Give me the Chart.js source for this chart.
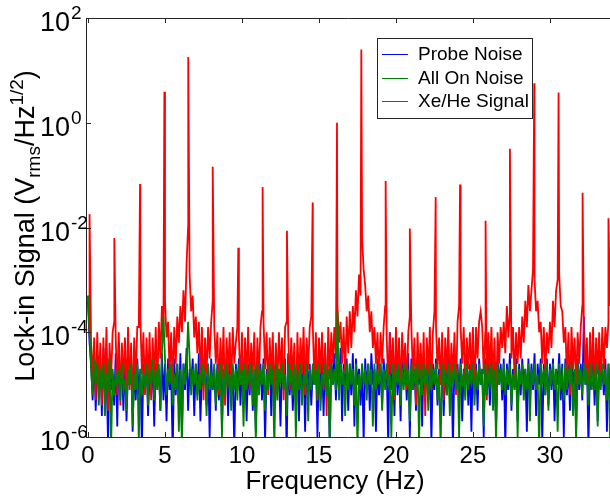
<!DOCTYPE html>
<html>
<head>
<meta charset="utf-8">
<script src="https://cdn.jsdelivr.net/npm/chart.js@4.4.1/dist/chart.umd.min.js"></script>
<style>
  body { margin: 0; background: #fff; }
</style>
</head>
<body>
<canvas id="spectrum" width="610" height="496"></canvas>
<script>
// spectra sampled every 0.1 Hz from 0 to 34 Hz, values are log10 of the amplitude
const freqStep = 0.1;

const probeNoiseLog = [
  -3.4,-4.2,-4.6,-5.3,-4.4,-5.5,-4.6,-5.0,-4.5,-5.6,
  -4.3,-5.2,-4.7,-6.1,-4.5,-5.1,-4.8,-5.4,-4.4,-5.8,
  -4.2,-5.0,-4.6,-5.5,-4.5,-5.7,-4.7,-5.0,-4.4,-5.9,
  -4.6,-5.3,-4.5,-5.2,-4.7,-6.2,-4.6,-5.1,-4.5,-5.6,
  -4.8,-5.2,-4.5,-5.8,-4.6,-5.0,-4.7,-5.5,-4.4,-5.3,
  -4.6,-5.7,-4.5,-5.1,-4.8,-6.3,-4.5,-5.2,-4.6,-5.4,
  -4.4,-5.9,-4.6,-5.1,-4.3,-5.5,-4.7,-5.0,-4.5,-5.6,
  -4.6,-5.2,-4.4,-5.7,-4.8,-5.0,-4.5,-5.4,-4.6,-6.0,
  -4.5,-5.1,-4.7,-5.5,-4.6,-5.3,-4.4,-5.8,-4.7,-5.0,
  -4.5,-5.6,-4.4,-5.2,-4.8,-6.2,-4.6,-5.1,-4.5,-5.4,
  -4.7,-5.0,-4.5,-5.7,-4.6,-5.2,-4.4,-5.5,-4.8,-5.9,
  -4.5,-5.1,-4.6,-5.3,-4.5,-6.1,-4.7,-5.0,-4.4,-5.6,
  -4.6,-5.4,-4.5,-5.1,-4.7,-5.8,-4.6,-5.0,-4.5,-6.3,
  -4.4,-5.2,-4.6,-5.5,-4.7,-5.0,-4.5,-5.7,-4.6,-5.1,
  -4.5,-5.9,-4.4,-5.2,-4.6,-5.4,-4.7,-5.0,-4.5,-6.0,
  -4.6,-5.1,-4.5,-5.6,-4.4,-5.2,-4.7,-6.2,-4.5,-5.0,
  -4.4,-5.3,-4.6,-5.1,-4.3,-5.7,-4.6,-5.0,-4.5,-5.5,
  -4.6,-5.2,-4.4,-5.8,-4.5,-5.0,-4.7,-5.4,-4.6,-6.1,
  -4.5,-5.1,-4.6,-5.5,-4.4,-5.0,-4.7,-5.9,-4.5,-5.2,
  -4.6,-5.4,-4.5,-5.0,-4.7,-6.2,-4.0,-5.1,-4.5,-5.6,
  -4.4,-5.2,-4.6,-5.7,-4.5,-5.0,-4.6,-5.3,-4.4,-6.0,
  -4.5,-5.1,-4.7,-5.5,-4.6,-5.0,-4.4,-5.8,-4.5,-5.2,
  -4.6,-5.3,-4.5,-6.1,-4.6,-5.1,-4.5,-5.4,-4.7,-5.0,
  -4.5,-5.6,-4.6,-5.2,-4.4,-5.0,-4.6,-6.2,-4.5,-5.1,
  -4.6,-5.3,-4.5,-5.7,-4.7,-5.0,-4.5,-5.4,-4.6,-5.9,
  -4.4,-5.1,-4.6,-5.5,-4.5,-5.0,-4.7,-6.0,-4.5,-5.2,
  -4.6,-5.4,-4.4,-5.1,-4.6,-5.8,-4.5,-5.0,-4.6,-5.3,
  -4.5,-6.2,-4.6,-5.1,-4.4,-5.5,-4.7,-5.0,-4.5,-5.7,
  -4.6,-5.2,-4.5,-5.0,-4.7,-5.9,-4.5,-5.3,-4.6,-5.1,
  -4.4,-5.6,-4.6,-5.0,-4.5,-6.1,-4.6,-5.2,-4.5,-5.4,
  -4.6,-5.1,-4.5,-5.7,-4.7,-5.0,-4.4,-5.3,-4.6,-6.0,
  -4.5,-5.2,-4.6,-5.5,-4.5,-5.0,-4.7,-5.8,-4.5,-5.1,
  -4.6,-5.3,-3.7,-5.0,-4.5,-6.2,-4.6,-5.1,-4.5,-5.4,
  -4.6,-5.7,-4.5,-5.0,-4.7,-5.2,-4.5,-5.9,-4.6,-5.1,
  -4.5
];

const allOnNoiseLog = [
  -3.3,-4.0,-4.7,-5.2,-4.5,-5.0,-4.6,-5.4,-4.7,-5.1,
  -4.6,-5.6,-4.8,-5.0,-4.5,-6.2,-4.7,-5.2,-4.8,-5.0,
  -4.7,-5.3,-4.6,-5.1,-4.9,-5.5,-4.7,-5.0,-4.6,-5.8,
  -4.8,-5.1,-4.6,-6.1,-4.7,-5.2,-4.8,-5.0,-4.6,-5.4,
  -4.7,-5.0,-4.5,-5.3,-4.7,-5.1,-4.6,-5.5,-4.4,-3.7,
  -4.5,-5.2,-4.7,-5.0,-4.6,-5.4,-4.8,-5.1,-4.6,-5.9,
  -4.7,-6.2,-4.6,-5.0,-4.7,-3.8,-4.5,-5.2,-4.7,-5.0,
  -4.6,-5.3,-4.8,-5.1,-4.6,-5.0,-4.7,-5.6,-4.6,-5.1,
  -4.8,-5.0,-4.6,-5.4,-4.7,-5.1,-4.6,-6.0,-4.7,-5.2,
  -4.6,-5.0,-4.8,-5.5,-4.6,-5.1,-4.7,-5.3,-4.6,-5.0,
  -4.7,-5.8,-4.6,-5.1,-4.8,-5.0,-4.6,-5.4,-4.7,-6.1,
  -4.6,-5.2,-4.7,-5.0,-4.6,-5.5,-4.8,-5.1,-4.6,-5.0,
  -4.7,-6.2,-4.6,-5.3,-4.7,-5.0,-4.6,-5.1,-4.8,-5.6,
  -4.6,-5.0,-4.7,-5.2,-4.6,-6.0,-4.7,-5.1,-4.6,-5.4,
  -4.8,-5.0,-4.6,-5.7,-4.7,-5.1,-4.6,-5.0,-4.7,-5.3,
  -4.6,-5.5,-4.8,-5.0,-4.6,-5.2,-4.7,-6.1,-4.6,-5.0,
  -4.7,-5.1,-3.6,-5.3,-4.6,-5.0,-4.7,-5.6,-4.6,-5.1,
  -4.6,-5.0,-4.7,-5.4,-4.6,-6.2,-4.8,-5.1,-4.6,-5.0,
  -4.7,-5.3,-4.6,-5.0,-4.7,-5.8,-4.6,-5.1,-4.7,-5.0,
  -4.6,-5.5,-4.7,-5.1,-4.6,-5.0,-4.8,-6.0,-4.6,-5.2,
  -4.7,-5.0,-4.6,-5.4,-4.7,-5.1,-4.6,-5.0,-4.7,-5.7,
  -4.6,-5.1,-4.8,-5.0,-4.6,-6.1,-4.7,-5.2,-4.6,-5.0,
  -4.7,-5.5,-4.6,-5.1,-4.7,-5.0,-4.6,-5.3,-4.8,-6.2,
  -4.6,-5.0,-4.7,-5.2,-4.6,-5.6,-4.7,-5.0,-4.6,-5.1,
  -4.7,-6.0,-4.6,-5.0,-4.8,-5.3,-4.6,-5.1,-4.7,-5.0,
  -4.6,-5.4,-4.7,-5.1,-4.6,-5.0,-4.7,-5.8,-4.6,-5.2,
  -4.8,-5.0,-4.6,-5.5,-4.7,-6.1,-4.6,-5.0,-4.7,-5.1,
  -4.6,-5.2,-4.7,-5.0,-4.6,-5.4,-4.8,-5.1,-4.6,-6.0,
  -4.7,-5.0,-4.6,-5.3,-4.7,-5.1,-4.6,-5.7,-4.7,-5.0,
  -4.6,-5.1,-4.8,-6.2,-4.6,-5.0,-4.7,-5.2,-4.6,-5.5,
  -4.7,-5.0,-4.6,-5.1,-4.7,-5.9,-4.6,-5.0,-4.8,-5.3,
  -4.6,-5.1,-4.7,-5.0,-4.6,-5.6,-4.7,-6.1,-4.6,-5.0,
  -4.7,-5.2,-4.6,-5.0,-4.7,-5.4,-4.6,-5.1,-4.8,-5.0,
  -4.6,-5.8,-4.7,-5.1,-4.6,-5.0,-4.7,-5.3,-4.6,-6.0,
  -4.7
];

const xeHeSignalLog = [
  -3.3,-4.0,-4.2,-4.9,-4.1,-5.3,-4.0,-5.0,-4.2,-5.4,
  -4.1,-5.1,-3.9,-5.5,-4.2,-4.9,-4.0,-3.8,-4.1,-5.2,
  -4.0,-5.4,-4.2,-5.0,-4.1,-5.3,-3.9,-5.1,-4.2,-5.5,
  -4.1,-4.9,-3.9,-3.9,-3.7,-4.8,-4.0,-5.2,-4.1,-5.0,
  -4.0,-5.3,-4.1,-4.9,-3.9,-5.1,-3.8,-4.5,-3.5,-3.9,
  -3.4,-4.1,-3.8,-4.8,-4.0,-5.0,-3.9,-4.6,-3.7,-4.2,
  -3.5,-4.0,-3.2,-3.8,-2.7,-2.0,-2.9,-3.6,-3.3,-4.1,
  -3.7,-4.4,-3.8,-4.9,-3.9,-5.3,-4.1,-4.8,-3.9,-4.5,
  -3.8,-3.4,-3.9,-4.6,-4.0,-5.2,-4.1,-4.9,-3.9,-5.4,
  -4.1,-4.8,-4.0,-5.1,-3.9,-4.6,-4.2,-3.9,-4.1,-5.0,
  -4.0,-5.3,-4.1,-4.9,-3.9,-5.1,-4.2,-4.8,-4.0,-5.5,
  -4.1,-4.9,-3.9,-3.6,-3.8,-4.7,-4.0,-5.2,-4.1,-4.9,
  -4.0,-5.4,-4.2,-5.0,-4.0,-4.8,-4.1,-5.3,-3.9,-3.8,
  -4.0,-5.1,-4.1,-4.9,-4.2,-5.5,-4.0,-5.0,-4.1,-4.8,
  -3.9,-5.2,-4.1,-4.7,-3.9,-3.7,-3.9,-4.9,-4.0,-5.3,
  -4.1,-4.8,-4.0,-5.1,-4.2,-5.6,-3.9,-4.9,-4.0,-4.6,
  -3.9,-4.5,-3.5,-4.2,-3.8,-4.6,-3.9,-4.8,-3.7,-4.4,
  -3.6,-4.3,-3.5,-4.0,-3.2,-3.7,-2.9,-3.3,-2.2,-2.8,
  -3.1,-3.6,-3.3,-4.0,-3.6,-4.3,-3.9,-4.6,-4.0,-4.9,
  -4.0,-4.6,-3.9,-3.5,-4.1,-5.0,-4.0,-4.8,-4.1,-5.3,
  -3.9,-4.9,-4.1,-5.2,-4.0,-4.7,-4.2,-5.1,-4.0,-3.7,
  -3.9,-4.8,-4.1,-5.4,-4.0,-4.9,-4.2,-5.0,-4.0,-5.6,
  -4.1,-4.8,-3.9,-5.1,-4.0,-3.6,-3.9,-4.7,-4.1,-5.0,
  -4.0,-5.3,-4.1,-4.8,-3.9,-5.1,-4.2,-4.9,-4.0,-5.2,
  -3.8,-3.5,-3.9,-4.6,-3.9,-5.0,-4.1,-4.7,-4.0,-4.9,
  -3.9,-5.2,-3.9,-4.5,-3.8,-3.6,-3.9,-4.8,-4.0,-5.3,
  -4.0,-4.8,-3.9,-5.0,-4.1,-5.4,-4.0,-4.6,-3.9,-4.3,
  -3.8,-4.4,-3.5,-4.1,-3.6,-4.5,-3.9,-4.9,-4.0,-4.6,
  -3.9,-4.5,-3.7,-4.2,-3.4,-3.9,-3.1,-3.6,-3.2,-2.8,
  -3.0,-3.6,-3.4,-4.0,-3.8,-4.6,-3.9,-4.8,-4.0,-4.4,
  -3.8,-4.3,-3.4,-3.9,-3.2,-3.0,-2.9,-3.5,-3.6,-4.2,
  -3.9,-4.8,-4.0,-5.2,-3.9,-4.7,-4.1,-5.0,-4.0,-4.6,
  -3.9,-3.5,-3.9,-4.8,-4.1,-5.3,-4.0,-4.9,-3.9,-5.1,
  -4.1,-4.8,-4.0,-5.0,-3.9,-4.7,-3.9,-4.3,-3.8,-3.5,
  -4.0
];

// resonance lines of the Xe/He signal (Hz, amplitude)
const peakFreqs = [0.1, 1.71, 3.38, 4.96, 6.51, 8.1, 9.76, 11.34, 12.92, 14.59, 16.17,
                   17.75, 19.33, 20.9, 22.58, 24.16, 25.82, 27.4, 28.98, 30.56, 32.12, 33.8];
const peakValues = [1.8e-2, 6.3e-3, 6.8e-2, 3.9, 18, 0.144, 4.1e-3, 0.059, 8.7e-3, 0.03, 1.0,
                    25, 0.077, 9.6e-3, 0.038, 0.066, 0.0134, 0.32, 5.7, 3.8, 0.046, 0.015];

const xTicks = [0, 5, 10, 15, 20, 25, 30];
const yTicks = [1e2, 1e0, 1e-2, 1e-4, 1e-6];
const yTickExponents = ['2', '0', '-2', '-4', '-6'];

const seriesNames = ['Probe Noise', 'All On Noise', 'Xe/He Signal'];
const seriesColors = ['#0000ff', '#008000', '#ff0000'];

const fontFamily = '"Liberation Sans", Arial, sans-serif';
const axisColor = '#262626';

function toPoints(logs) {
  return logs.map((v, i) => ({ x: Math.round(i * freqStep * 10) / 10, y: Math.pow(10, v) }));
}

let signalPoints = toPoints(xeHeSignalLog);
for (let k = 0; k < peakFreqs.length; k++) {
  signalPoints.push({ x: peakFreqs[k], y: peakValues[k] });
}
signalPoints.sort((a, b) => a.x - b.x);

// axes box, inward ticks, labels and legend drawn on top of the data (MATLAB look)
const decorations = {
  id: 'decorations',
  afterDraw(chart) {
    const ctx = chart.ctx;
    const area = chart.chartArea;
    const xs = chart.scales.x;
    const ys = chart.scales.y;

    ctx.save();
    ctx.strokeStyle = axisColor;
    ctx.lineWidth = 1;
    ctx.beginPath();
    ctx.moveTo(area.left + 0.5, area.bottom + 0.5);
    ctx.lineTo(area.left + 0.5, area.top + 0.5);
    ctx.lineTo(area.right, area.top + 0.5);
    ctx.moveTo(area.left + 0.5, area.bottom + 0.5);
    ctx.lineTo(area.right, area.bottom + 0.5);
    xTicks.forEach(t => {
      const px = Math.round(xs.getPixelForValue(t)) + 0.5;
      ctx.moveTo(px, area.bottom);
      ctx.lineTo(px, area.bottom - 5);
      ctx.moveTo(px, area.top);
      ctx.lineTo(px, area.top + 5);
    });
    yTicks.forEach(t => {
      const py = Math.round(ys.getPixelForValue(t)) + 0.5;
      ctx.moveTo(area.left, py);
      ctx.lineTo(area.left + 5, py);
    });
    ctx.stroke();

    ctx.fillStyle = '#000';
    ctx.textBaseline = 'alphabetic';

    // x tick labels
    ctx.font = '24px ' + fontFamily;
    ctx.textAlign = 'center';
    xTicks.forEach(t => {
      ctx.fillText(String(t), xs.getPixelForValue(t), 463);
    });

    // y tick labels 10^n
    yTicks.forEach((t, i) => {
      const py = ys.getPixelForValue(t);
      ctx.font = '27px ' + fontFamily;
      ctx.textAlign = 'right';
      ctx.fillText('10', 70, py + 13);
      ctx.font = '19px ' + fontFamily;
      ctx.textAlign = 'left';
      ctx.fillText(yTickExponents[i], 71, py + 1);
    });

    // x title
    ctx.font = '26px ' + fontFamily;
    ctx.textAlign = 'center';
    ctx.fillText('Frequency (Hz)', 335, 489);

    // y title with sub/superscript
    const parts = [
      { t: 'Lock-in Signal (V', size: 27, dy: 0 },
      { t: 'rms', size: 19, dy: 6 },
      { t: '/Hz', size: 27, dy: 0 },
      { t: '1/2', size: 19, dy: -11 },
      { t: ')', size: 27, dy: 0 }
    ];
    let total = 0;
    parts.forEach(p => {
      ctx.font = p.size + 'px ' + fontFamily;
      p.w = ctx.measureText(p.t).width;
      total += p.w;
    });
    ctx.save();
    ctx.translate(34, 226);
    ctx.rotate(-Math.PI / 2);
    ctx.textAlign = 'left';
    let cx = -total / 2;
    parts.forEach(p => {
      ctx.font = p.size + 'px ' + fontFamily;
      ctx.fillText(p.t, cx, p.dy);
      cx += p.w;
    });
    ctx.restore();

    // legend
    const lx = 377, ly = 38, lw = 155, lh = 80;
    ctx.fillStyle = '#fff';
    ctx.fillRect(lx, ly, lw, lh);
    ctx.strokeStyle = axisColor;
    ctx.strokeRect(lx + 0.5, ly + 0.5, lw, lh);
    const rows = [54, 78, 101];
    ctx.font = '19px ' + fontFamily;
    ctx.textAlign = 'left';
    ctx.textBaseline = 'middle';
    seriesNames.forEach((name, i) => {
      ctx.strokeStyle = seriesColors[i];
      ctx.beginPath();
      ctx.moveTo(382, rows[i] + 0.5);
      ctx.lineTo(408, rows[i] + 0.5);
      ctx.stroke();
      ctx.fillStyle = '#000';
      ctx.fillText(name, 418, rows[i] + 1);
    });
    ctx.restore();
  }
};

const ctxSpectrum = document.querySelector('#spectrum').getContext('2d');
const spectrumChart = new Chart(ctxSpectrum, {
  type: 'line',
  data: {
    datasets: [{
      label: seriesNames[0],
      data: toPoints(probeNoiseLog),
      borderColor: seriesColors[0],
      borderWidth: 1.8,
      pointRadius: 0,
      order: 3
    }, {
      label: seriesNames[1],
      data: toPoints(allOnNoiseLog),
      borderColor: seriesColors[1],
      borderWidth: 1.8,
      pointRadius: 0,
      order: 1
    }, {
      label: seriesNames[2],
      data: signalPoints,
      borderColor: seriesColors[2],
      borderWidth: 1.8,
      pointRadius: 0,
      order: 2
    }]
  },
  options: {
    responsive: false,
    animation: false,
    layout: { padding: { left: 86, top: 18, right: 0, bottom: 59 } },
    scales: {
      x: { type: 'linear', min: -0.13, max: 33.9, display: false },
      y: { type: 'logarithmic', min: 1e-6, max: 1e2, display: false }
    },
    plugins: {
      legend: { display: false },
      tooltip: { enabled: false }
    }
  },
  plugins: [decorations]
});
</script>
</body>
</html>
